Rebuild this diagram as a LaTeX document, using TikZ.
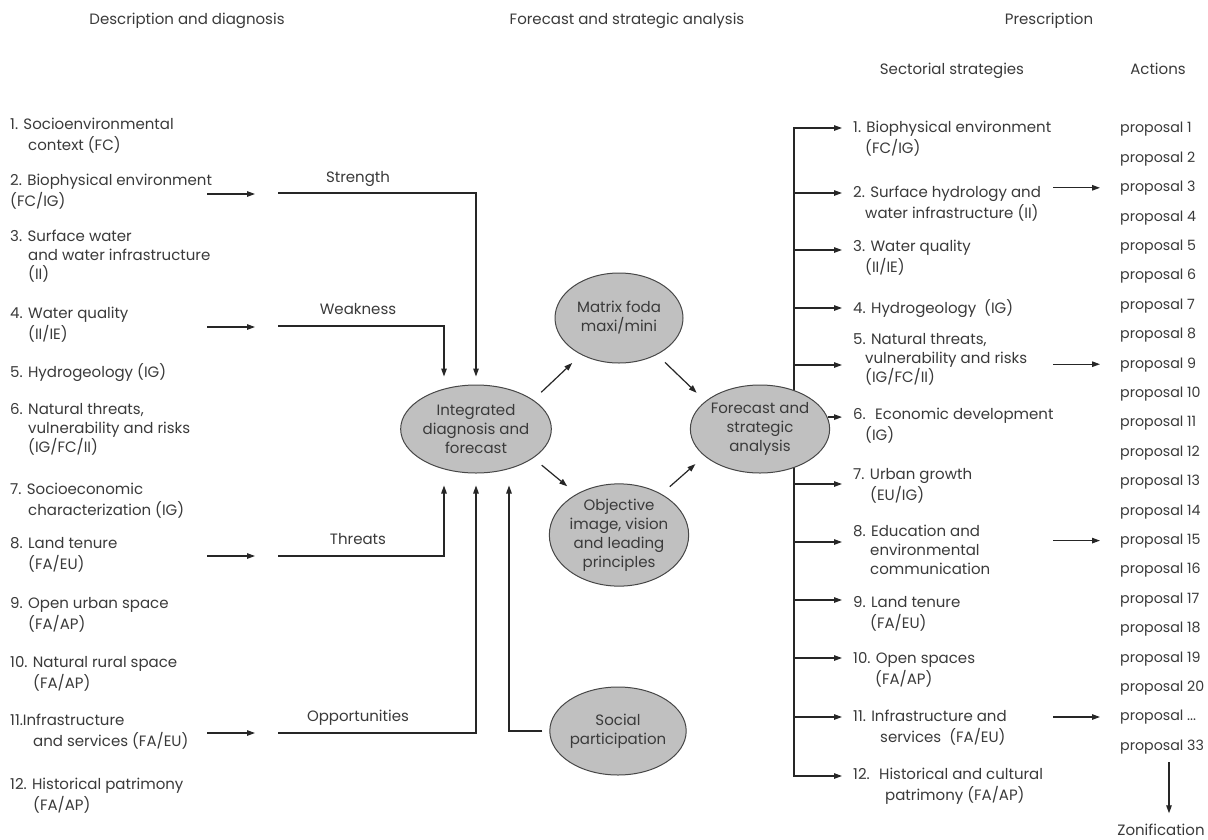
\documentclass[tikz,border=0pt]{standalone}
\usepackage{fontspec}
\setmainfont{Poppins}
\usetikzlibrary{arrows.meta,shapes.geometric}
\definecolor{ink}{RGB}{58,58,58}
\definecolor{wire}{RGB}{38,38,38}
\definecolor{bubble}{RGB}{192,192,192}
\newcommand\bodyfont{\fontsize{15}{19}\selectfont}
\newcommand\actfont{\fontsize{14.2}{19}\selectfont}

\begin{document}
\begin{tikzpicture}[x=1pt,y=-1pt,
  txt/.style={inner sep=0pt, font=\bodyfont, text=ink, align=left, anchor=north west, yshift=8.7pt},
  ctxt/.style={txt, anchor=north, align=center},
  wire/.style={draw=wire, line width=1.2pt},
  arr/.style={wire, -{Triangle[length=8pt,width=5.5pt]}},
  bub/.style={ellipse, draw=wire!85, line width=1pt, fill=bubble, inner sep=0pt,
              font=\bodyfont, text=ink, align=center, minimum width=128pt, minimum height=88pt}]

\fill[white] (0,0) rectangle (1208,839);
\useasboundingbox (0,0) rectangle (1208,839);

% column headings
\node[ctxt] (h1) at (187,20) {\strut Description and diagnosis};
\node[ctxt] (h2) at (627,20) {\strut Forecast and strategic analysis};
\node[ctxt] (h3) at (1049,20) {\strut Prescription};
\node[ctxt] (h4) at (952,70) {\strut Sectorial strategies};
\node[ctxt] (h5) at (1158,70) {\strut Actions};

% description and diagnosis items
\node[txt] (l1)  at (10,125) {\strut 1. Socioenvironmental\\\hspace*{18pt}context (FC)};
\node[txt] (l2)  at (10,181) {\strut 2. Biophysical environment\\(FC/IG)};
\node[txt] (l3)  at (10,237) {\strut 3. Surface water\\\hspace*{18pt}and water infrastructure\\\hspace*{18pt}(II)};
\node[txt] (l4)  at (10,314) {\strut 4. Water quality\\\hspace*{18pt}(II/IE)};
\node[txt] (l5)  at (10,372) {\strut 5. Hydrogeology (IG)};
\node[txt] (l6)  at (10,410) {\strut 6. Natural threats,\\\hspace*{18pt}vulnerability and risks\\\hspace*{18pt}(IG/FC/II)};
\node[txt] (l7)  at (10,490) {\strut 7. Socioeconomic\\\hspace*{18pt}characterization (IG)};
\node[txt] (l8)  at (10,544) {\strut 8. Land tenure\\\hspace*{18pt}(FA/EU)};
\node[txt] (l9)  at (10,604) {\strut 9. Open urban space\\\hspace*{18pt}(FA/AP)};
\node[txt] (l10) at (10,663) {\strut 10. Natural rural space\\\hspace*{23pt}(FA/AP)};
\node[txt] (l11) at (10,721) {\strut 11.Infrastructure\\\hspace*{23pt}and services (FA/EU)};
\node[txt] (l12) at (10,785) {\strut 12. Historical patrimony\\\hspace*{23pt}(FA/AP)};

% sectorial strategies
\node[txt] (r1)  at (853,128) {\strut 1. Biophysical environment\\\hspace*{12pt}(FC/IG)};
\node[txt] (r2)  at (853,193) {\strut 2. Surface hydrology and\\\hspace*{12pt}water infrastructure (II)};
\node[txt] (r3)  at (853,247) {\strut 3. Water quality\\\hspace*{12pt}(II/IE)};
\node[txt] (r4)  at (853,308) {\strut 4. Hydrogeology~ (IG)};
\node[txt] (r5)  at (853,340) {\strut 5. Natural threats,\\\hspace*{12pt}vulnerability and risks\\\hspace*{12pt}(IG/FC/II)};
\node[txt] (r6)  at (853,415) {\strut 6.~ Economic development\\\hspace*{12pt}(IG)};
\node[txt] (r7)  at (853,475) {\strut 7. Urban growth\\\hspace*{17pt}(EU/IG)};
\node[txt] (r8)  at (853,532) {\strut 8. Education and\\\hspace*{17pt}environmental\\\hspace*{17pt}communication};
\node[txt] (r9)  at (853,603) {\strut 9. Land tenure\\\hspace*{17pt}(FA/EU)};
\node[txt] (r10) at (853,659) {\strut 10. Open spaces\\\hspace*{22pt}(FA/AP)};
\node[txt] (r11) at (853,717) {\strut 11. Infrastructure and\\\hspace*{27pt}services~ (FA/EU)};
\node[txt] (r12) at (853,775) {\strut 12.~ Historical and cultural\\\hspace*{32pt}patrimony (FA/AP)};

% actions
\foreach \k/\t in {1/1,2/2,3/3,4/4,5/5,6/6,7/7,8/8,9/9,10/10,11/11,12/12,13/13,14/14,
                   15/15,16/16,17/17,18/18,19/19,20/20,21/{...},22/33}
  \node[txt, font=\actfont] (p\k) at (1120,{128+(\k-1)*29.4}) {\strut proposal \t};
\node[ctxt] (zon) at (1161,831) {\strut Zonification};

% trunk of the sectorial strategies (drawn below the ellipse)
\foreach \i/\y in {1/128,2/193,3/250,4/308,5/365,7/484,8/542,9/600,10/658,11/717,12/776}
  \coordinate (t\i) at (794,\y);
\draw[wire, line cap=rect] (t1) -- (t12);

% ellipses
\node[bub] (int) at (476,429) {Integrated\\diagnosis and\\forecast};
\node[bub, minimum height=90pt] (mat) at (619,318) {Matrix foda\\maxi/mini};
\node[bub, minimum height=90pt] (obj) at (619,535) {Objective\\image, vision\\and leading\\principles};
\node[bub, minimum width=134pt] (fc) at (760,429) {Forecast and\\strategic\\analysis};
\node[bub] (soc) at (618,731) {Social\\participation};

% short arrows leaving the diagnosis items
\foreach \n/\y in {s/194,w/327,th/556,o/733}{
  \coordinate (\n a) at (207,\y);
  \coordinate (\n b) at (255,\y);
  \draw[arr] (\n a) -- (\n b);
}
\coordinate (s0)  at (278,193);
\coordinate (w0)  at (278,326);
\coordinate (th0) at (278,556);
\coordinate (o0)  at (278,733);

% SWOT feeds into the integrated diagnosis
\draw[arr, shorten >=8pt]  (s0)  -| (int.north);
\draw[arr, shorten >=8pt]  (w0)  -| ([xshift=-32pt]int.north);
\draw[arr, shorten >=12pt] (th0) -| ([xshift=-32pt]int.south);
\draw[arr, shorten >=12pt] (o0)  -| (int.south);
\draw[arr, shorten >=12pt] ([xshift=-7pt]soc.west) -| ([xshift=33pt]int.south);

\node[ctxt] (ls)  at (358,178) {\strut Strength};
\node[ctxt] (lw)  at (358,310) {\strut Weakness};
\node[ctxt] (lt)  at (358,540) {\strut Threats};
\node[ctxt] (lo)  at (358,717) {\strut Opportunities};

% flow between the ellipses
\draw[arr, shorten <=11pt, shorten >=12pt] (int.27)  -- (mat.224);
\draw[arr, shorten <=11pt, shorten >=12pt] (mat.-44) -- (fc.153);
\draw[arr, shorten <=11pt, shorten >=12pt] (int.-27) -- (obj.136);
\draw[arr, shorten <=11pt, shorten >=12pt] (obj.44)  -- (fc.-154);

% branches to the sectorial strategies
\foreach \i in {1,2,3,4,5,7,8,9,10,11,12}
  \draw[arr, shorten >=11pt] (t\i) -- (t\i -| r\i.west);
\draw[arr, shorten >=11pt] (fc.10) -- (fc.10 -| r6.west);

% strategies to actions
\foreach \k in {3,9,15,21}
  \draw[arr] ([xshift=-67pt]p\k.west) -- ([xshift=-20pt]p\k.west);

% actions to zonification
\coordinate (za) at (1169,762);
\draw[arr, shorten >=9pt] (za) -- (za |- zon.north);

\end{tikzpicture}
\end{document}
